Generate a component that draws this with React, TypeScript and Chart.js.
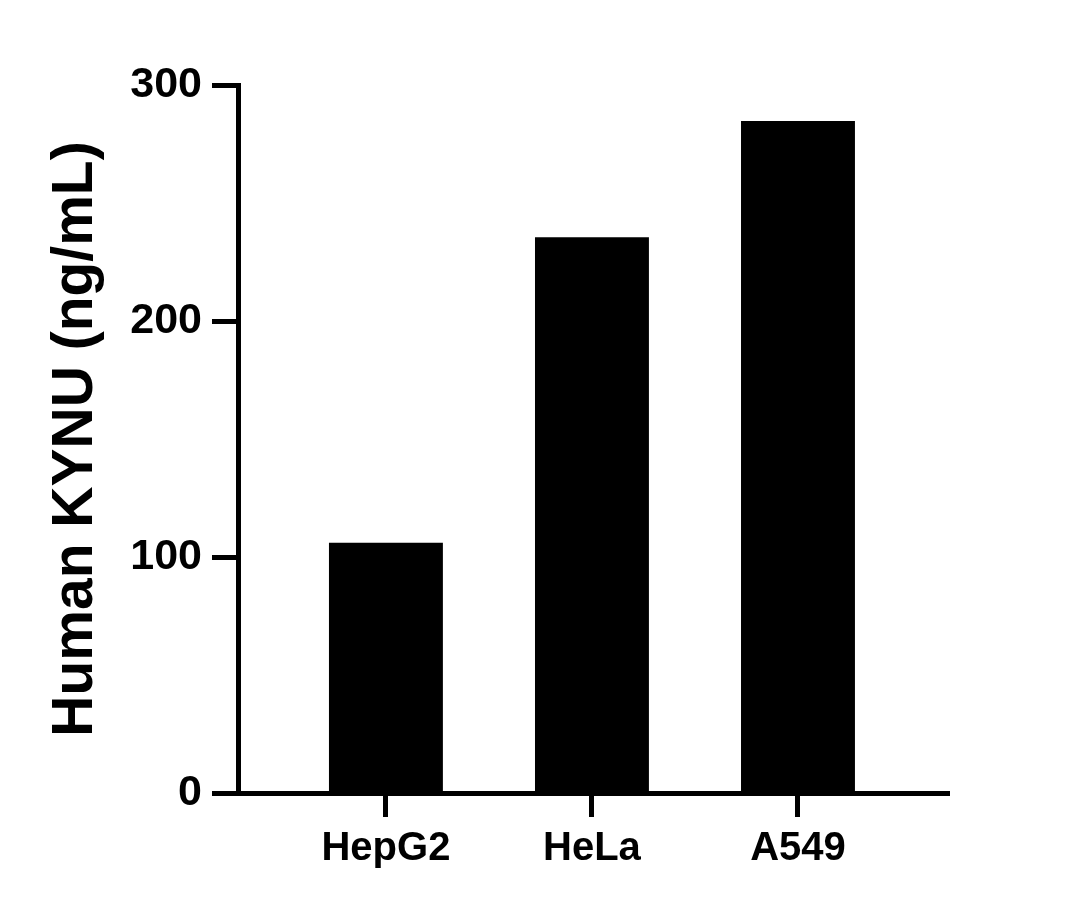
import React, { useEffect, useRef } from "react";
import { Chart, registerables } from "chart.js";

Chart.register(...registerables);

const categories = ["HepG2", "HeLa", "A549"];
const values = [106, 235.5, 284.7];
const yTicks = [0, 100, 200, 300];
const yTitle = "Human KYNU (ng/mL)";

const FONT = "'Liberation Sans', Arial, Helvetica, sans-serif";

export default function App() {
  const ref = useRef<HTMLCanvasElement | null>(null);

  useEffect(() => {
    if (!ref.current) return;
    const chart = new Chart(ref.current, {
      type: "bar",
      data: {
        datasets: [
          {
            data: values.map((v, i) => ({ x: i, y: v })),
            backgroundColor: "#000000",
            borderWidth: 0,
            barPercentage: 0.553,
            categoryPercentage: 1,
          },
        ],
      },
      options: {
        animation: false,
        responsive: true,
        maintainAspectRatio: false,
        layout: { padding: { left: 0, top: 85, right: 131, bottom: 0 } },
        plugins: { legend: { display: false }, tooltip: { enabled: false } },
        scales: {
          x: {
            type: "linear",
            offset: false,
            min: -0.718,
            max: 2.733,
            afterBuildTicks: (scale: any) => {
              scale.ticks = categories.map((_, i) => ({ value: i }));
            },
            afterFit: (scale: any) => {
              scale.height = 117;
            },
            ticks: {
              autoSkip: false,
              maxRotation: 0,
              padding: 8,
              color: "#000000",
              font: { family: FONT, size: 40, weight: "bold" },
              callback: (v: any) => categories[Math.round(Number(v))] ?? "",
            },
            grid: {
              offset: false,
              drawOnChartArea: false,
              drawTicks: true,
              tickLength: 24,
              tickWidth: 5,
              color: "#000000",
            },
            border: { display: true, width: 5, color: "#000000" },
          },
          y: {
            type: "linear",
            min: 0,
            max: 300,
            afterBuildTicks: (scale: any) => {
              scale.ticks = yTicks.map((v) => ({ value: v }));
            },
            afterFit: (scale: any) => {
              scale.width = 238;
            },
            ticks: {
              padding: 10,
              color: "#000000",
              font: { family: FONT, size: 43, weight: "bold" },
            },
            grid: {
              drawOnChartArea: false,
              drawTicks: true,
              tickLength: 26,
              tickWidth: 5,
              color: "#000000",
            },
            border: { display: true, width: 5, color: "#000000" },
            title: {
              display: true,
              text: yTitle,
              color: "#000000",
              font: { family: FONT, size: 57, weight: "bold" },
              padding: { top: 42, bottom: 0 },
            },
          },
        },
      },
    });
    return () => chart.destroy();
  }, []);

  return (
    <div
      style={{
        position: "absolute",
        left: 0,
        top: 0,
        width: 1080,
        height: 910,
        background: "#ffffff",
      }}
    >
      <canvas ref={ref} />
    </div>
  );
}
